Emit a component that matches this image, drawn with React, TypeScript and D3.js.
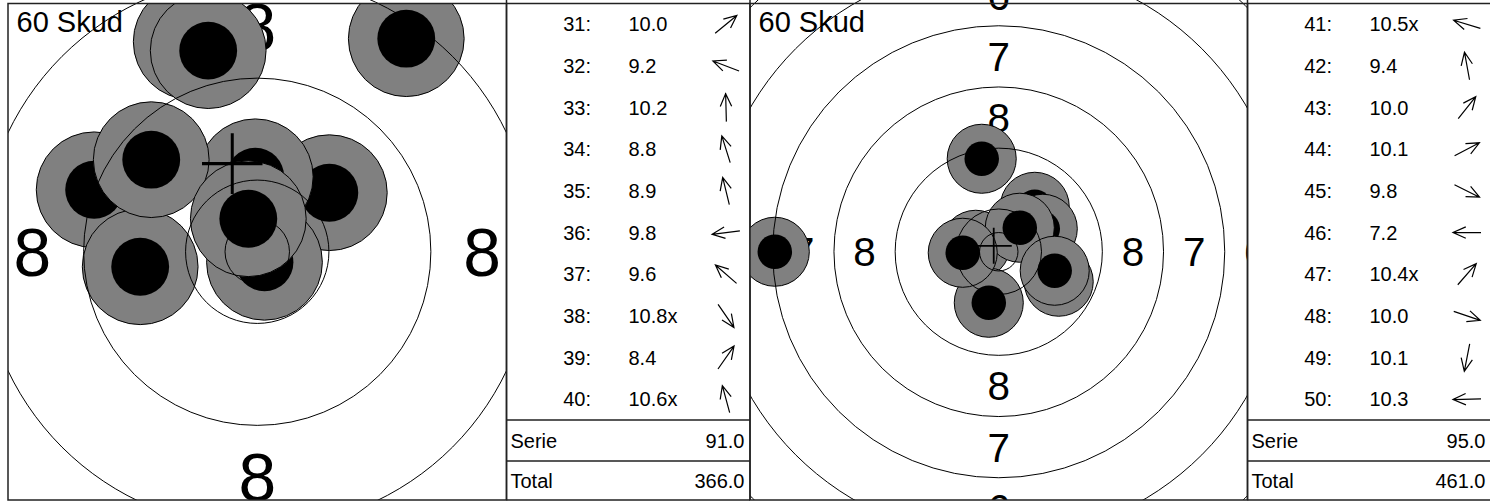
import React, { useEffect, useRef } from 'react';
import * as d3 from 'd3';

// Series 31-40
const shotNos1 = [31, 32, 33, 34, 35, 36, 37, 38, 39, 40];
const scores1 = [10.0, 9.2, 10.2, 8.8, 8.9, 9.8, 9.6, 10.8, 8.4, 10.6];
const inner1 = [false, false, false, false, false, false, false, true, false, true];
// shot positions in mm from target centre (x right, y up)
const shotX1 = [5.48, -12.4, -0.15, -5.02, -3.73, -8.9, -8.06, 0.55, 11.33, -0.68];
const shotY1 = [4.49, 4.71, 5.7, 15.97, 15.29, -1.14, 7.0, -0.8, 16.2, 2.51];
const group1 = [-1.9, 6.7];

// Series 41-50
const shotNos2 = [41, 42, 43, 44, 45, 46, 47, 48, 49, 50];
const scores2 = [10.5, 9.4, 10.0, 10.1, 9.8, 7.2, 10.4, 10.0, 10.1, 10.3];
const inner2 = [true, false, false, false, false, false, true, false, false, false];
const shotX2 = [-2.93, -2.17, 4.59, 5.61, 7.64, -28.54, 2.68, 7.13, -1.27, -4.59];
const shotY2 = [0.89, 11.85, 5.73, 2.93, -3.82, 0, 3.06, -2.42, -6.5, -0.13];
const group2 = [-0.64, 0.76];

const totalBefore = 275;
const programLabel = '60 Skud';
const serieLabel = 'Serie';
const totalLabel = 'Total';

// target rings (mm radius)
const ringNumbers = [10, 9, 8, 7, 6, 5, 4, 3, 2, 1];
const ringRadii = [5.45, 13.2, 21.0, 28.8, 36.6, 44.4, 52.2, 60.0, 67.8, 75.6];
const innerTenRadius = 2.45;
const labelRings = [8, 7, 6, 5, 4, 3, 2, 1];

const W = 1490;
const H = 502;
const FONT = '"Liberation Sans", Arial, sans-serif';

const App: React.FC = () => {
  const svgRef = useRef<SVGSVGElement>(null);

  useEffect(() => {
    if (!svgRef.current) return;
    const svg = d3.select(svgRef.current);
    svg.selectAll('*').remove();
    const defs = svg.append('defs');

    const top = 3.5;
    const bottom = 500;
    const rowsBottom = 420;
    const serieBottom = 461;
    const tableW = 243.5;

    const series = [
      { nos: shotNos1, scores: scores1, inner: inner1, xs: shotX1, ys: shotY1, group: group1, x0: 8, x1: 506.5, view: 18.95 },
      { nos: shotNos2, scores: scores2, inner: inner2, xs: shotX2, ys: shotY2, group: group2, x0: 750, x1: 1247.5, view: 31.7 },
    ];

    let running = totalBefore;

    series.forEach((s, si) => {
      const cx = (s.x0 + s.x1) / 2;
      const cy = (top + bottom) / 2;
      const half = (s.x1 - s.x0) / 2;
      const x = d3.scaleLinear().domain([-s.view, s.view]).range([cx - half, cx + half]);
      const y = d3.scaleLinear().domain([-s.view, s.view]).range([cy + half, cy - half]);
      const r = d3.scaleLinear().domain([0, s.view]).range([0, half]);

      defs.append('clipPath').attr('id', `ring-clip-${si}`)
        .append('rect').attr('x', s.x0).attr('y', 0).attr('width', s.x1 - s.x0).attr('height', bottom);
      defs.append('clipPath').attr('id', `frame-clip-${si}`)
        .append('rect').attr('x', s.x0).attr('y', top).attr('width', s.x1 - s.x0).attr('height', bottom - top);

      // ring numbers (only those that reach into the frame)
      const labelSize = 5.15;
      const labels = svg.append('g').attr('clip-path', `url(#ring-clip-${si})`);
      labelRings.forEach((k) => {
        const idx = ringNumbers.indexOf(k);
        const d = (ringRadii[idx] + ringRadii[idx - 1]) / 2;
        if (d - labelSize / 2 > s.view) return;
        [[0, d], [0, -d], [-d, 0], [d, 0]].forEach(([px, py]) => {
          labels.append('text')
            .attr('x', x(px))
            .attr('y', y(py))
            .attr('dy', '0.358em')
            .attr('text-anchor', 'middle')
            .attr('font-family', FONT)
            .attr('font-size', r(labelSize))
            .text(k);
        });
      });

      // shots
      const shots = svg.append('g').attr('clip-path', `url(#frame-clip-${si})`);
      s.xs.forEach((sx, i) => {
        const g = shots.append('g');
        g.append('circle')
          .attr('cx', x(sx)).attr('cy', y(s.ys[i])).attr('r', r(4.4))
          .attr('fill', '#808080').attr('stroke', '#000').attr('stroke-width', 1);
        g.append('circle')
          .attr('cx', x(sx)).attr('cy', y(s.ys[i])).attr('r', r(2.2))
          .attr('fill', '#000');
      });

      // ring lines over the shots
      const rings = svg.append('g').attr('clip-path', `url(#ring-clip-${si})`);
      rings.selectAll('circle')
        .data([innerTenRadius, ...ringRadii])
        .enter()
        .append('circle')
        .attr('cx', x(0)).attr('cy', y(0))
        .attr('r', (d) => r(d))
        .attr('fill', 'none').attr('stroke', '#000').attr('stroke-width', 1);

      // group centre cross
      const arm = 2.3;
      const [gx, gy] = s.group;
      svg.append('path')
        .attr('d', `M${x(gx - arm)},${y(gy)}H${x(gx + arm)}M${x(gx)},${y(gy + arm)}V${y(gy - arm)}`)
        .attr('stroke', '#000').attr('stroke-width', r(0.23)).attr('fill', 'none')
        .attr('clip-path', `url(#frame-clip-${si})`);

      svg.append('text')
        .attr('x', s.x0 + 8.5).attr('y', 32)
        .attr('font-family', FONT).attr('font-size', 29)
        .text(programLabel);

      svg.append('rect')
        .attr('x', s.x0).attr('y', top).attr('width', s.x1 - s.x0).attr('height', bottom - top)
        .attr('fill', 'none').attr('stroke', '#222').attr('stroke-width', 1.5);

      // table
      const tx = s.x1;
      const tbl = svg.append('g');
      const rowH = (rowsBottom - top) / s.nos.length;
      const fmt = d3.format('.1f');
      s.nos.forEach((no, i) => {
        const ry = top + (i + 0.5) * rowH;
        tbl.append('text').attr('x', tx + 84.5).attr('y', ry).attr('dy', '0.35em')
          .attr('text-anchor', 'end').attr('font-family', FONT).attr('font-size', 20)
          .text(`${no}:`);
        tbl.append('text').attr('x', tx + 122).attr('y', ry).attr('dy', '0.35em')
          .attr('font-family', FONT).attr('font-size', 20)
          .text(fmt(s.scores[i]) + (s.inner[i] ? 'x' : ''));

        // direction arrow
        const a = Math.atan2(s.ys[i], s.xs[i]);
        const ax = tx + 219.5;
        const L = 14;
        const dx = Math.cos(a);
        const dy = -Math.sin(a);
        const tipX = ax + dx * L;
        const tipY = ry + dy * L;
        const hl = 14;
        const th = (24 * Math.PI) / 180;
        const h1x = tipX - hl * Math.cos(a + th);
        const h1y = tipY + hl * Math.sin(a + th);
        const h2x = tipX - hl * Math.cos(a - th);
        const h2y = tipY + hl * Math.sin(a - th);
        tbl.append('path')
          .attr('d', `M${ax - dx * L},${ry - dy * L}L${tipX},${tipY}M${h1x},${h1y}L${tipX},${tipY}L${h2x},${h2y}`)
          .attr('fill', 'none').attr('stroke', '#000').attr('stroke-width', 1.2);
      });

      const serie = d3.sum(s.scores, (v) => Math.floor(v));
      running += serie;
      const sy = (rowsBottom + serieBottom) / 2;
      const ty = (serieBottom + bottom) / 2;
      tbl.append('text').attr('x', tx + 4).attr('y', sy).attr('dy', '0.35em')
        .attr('font-family', FONT).attr('font-size', 20).text(serieLabel);
      tbl.append('text').attr('x', tx + 238).attr('y', sy).attr('dy', '0.35em')
        .attr('text-anchor', 'end').attr('font-family', FONT).attr('font-size', 20).text(fmt(serie));
      tbl.append('text').attr('x', tx + 4).attr('y', ty).attr('dy', '0.35em')
        .attr('font-family', FONT).attr('font-size', 20).text(totalLabel);
      tbl.append('text').attr('x', tx + 238).attr('y', ty).attr('dy', '0.35em')
        .attr('text-anchor', 'end').attr('font-family', FONT).attr('font-size', 20).text(fmt(running));

      tbl.append('path')
        .attr('d', `M${tx},${rowsBottom}H${tx + tableW}M${tx},${serieBottom}H${tx + tableW}M${tx},${top}H${tx + tableW}M${tx},${bottom}H${tx + tableW}M${tx},0V${bottom}M${tx + tableW},0V${bottom}`)
        .attr('fill', 'none').attr('stroke', '#222').attr('stroke-width', 1.5);
    });
  }, []);

  return (
    <svg
      ref={svgRef}
      width={W}
      height={H}
      style={{ position: 'absolute', left: 0, top: 0, background: '#fff' }}
    />
  );
};

export default App;
